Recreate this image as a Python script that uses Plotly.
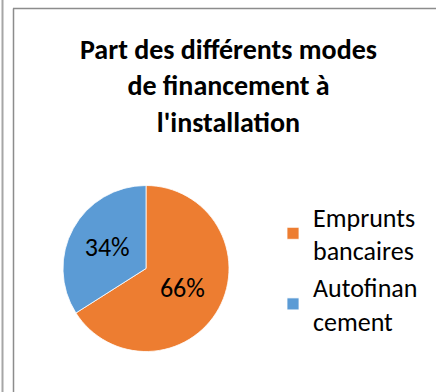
import plotly.graph_objects as go

# Financing modes at setup and their share
labels = ["Emprunts<br>bancaires", "Autofinan<br>cement"]
shares = [66, 34]
colors = ["#ED7D31", "#5B9BD5"]
title_lines = ["Part des différents modes", "de financement à", "l'installation"]

W, H = 436, 392
FONT = "Carlito, Lato, sans-serif"


def px_x(v):
    return v / W


def px_y(v):
    return 1 - v / H


fig = go.Figure(
    go.Pie(
        labels=labels,
        values=shares,
        sort=False,
        direction="clockwise",
        rotation=0,
        marker=dict(colors=colors, line=dict(color="white", width=0.8)),
        textinfo="percent",
        texttemplate="%{percent:.0%}",
        textposition="inside",
        insidetextorientation="horizontal",
        textfont=dict(family=FONT, size=26, color="black"),
        domain=dict(x=[px_x(63), px_x(229)], y=[px_y(352), px_y(185)]),
        hoverinfo="label+percent",
    )
)

# Chart title, centred over the chart area
title_text = "<br>".join(f"<b>{line}</b>" for line in title_lines)

fig.update_layout(
    width=W,
    height=H,
    margin=dict(l=0, r=0, t=0, b=0),
    paper_bgcolor="white",
    plot_bgcolor="white",
    annotations=[dict(
        text=title_text,
        xref="paper", yref="paper",
        x=px_x(228), y=px_y(86),
        xanchor="center", yanchor="middle",
        align="center",
        showarrow=False,
        font=dict(family=FONT, size=28, color="black"),
    )],
    legend=dict(
        x=px_x(273),
        y=px_y(193),
        xanchor="left",
        yanchor="top",
        font=dict(family=FONT, size=26, color="black"),
        bgcolor="rgba(0,0,0,0)",
    ),
    shapes=[
        dict(type="line", xref="paper", yref="paper",
             x0=px_x(2.5), x1=px_x(2.5), y0=0, y1=1,
             line=dict(color="#A6A6A6", width=2)),
        dict(type="line", xref="paper", yref="paper",
             x0=px_x(13.5), x1=px_x(13.5), y0=0, y1=px_y(8.5),
             line=dict(color="#8C8C8C", width=1.5)),
        dict(type="line", xref="paper", yref="paper",
             x0=px_x(13), x1=1, y0=px_y(8.5), y1=px_y(8.5),
             line=dict(color="#8C8C8C", width=1.5)),
    ],
)

fig.write_html("out.html")
